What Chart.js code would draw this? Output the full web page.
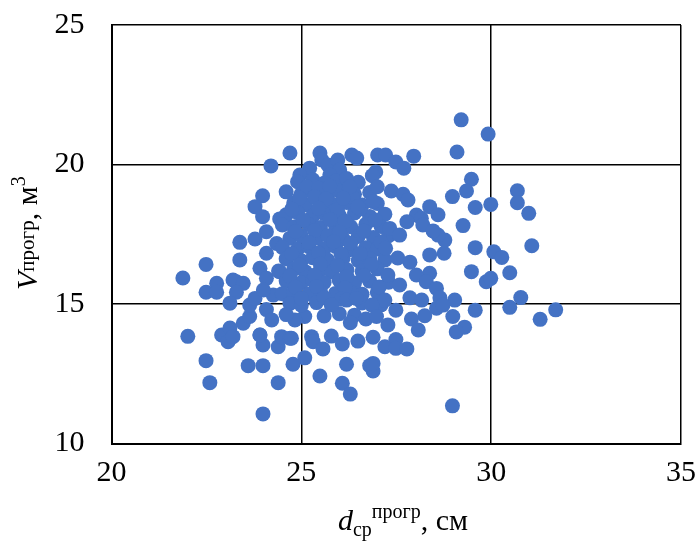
<!DOCTYPE html>
<html>
<head>
<meta charset="utf-8">
<script src="https://cdn.jsdelivr.net/npm/chart.js@4.4.1/dist/chart.umd.min.js"></script>
<style>
  html, body { margin: 0; padding: 0; background: #fff; }
  #wrap { width: 700px; height: 547px; }
</style>
</head>
<body>
<div id="wrap"><canvas id="chart" width="700" height="547"></canvas></div>
<script>
// === ДАННЫЕ: [d_ср прогр, см ; V прогр, м3] ===
const levyeTochki = [
  [21.88, 15.93], [22.01, 13.84], [22.49, 12.97], [22.59, 12.18], [22.49, 16.42],
  [22.49, 15.42], [22.77, 15.74], [22.9, 13.89], [23.12, 14.14], [23.07, 13.65],
  [23.2, 13.83], [23.38, 17.21], [23.38, 16.58], [23.29, 15.8], [23.2, 15.86],
  [23.47, 15.74], [23.29, 15.42], [22.77, 15.42], [23.12, 15.03], [23.47, 14.31],
  [23.64, 14.55], [23.91, 13.89], [23.99, 13.53], [24.39, 13.47], [24.48, 13.83],
  [24.7, 13.77], [23.6, 12.79], [23.99, 12.79], [24.78, 12.84], [24.39, 12.18],
  [23.99, 11.06], [24.2, 19.95], [23.98, 18.88], [23.78, 18.49], [23.98, 18.13],
  [24.43, 18.05], [24.55, 18.06], [24.08, 17.59], [23.78, 17.33], [24.35, 17.17],
  [24.08, 16.82], [23.91, 16.28], [24.43, 16.16], [24.08, 15.92], [24.26, 15.32],
  [23.64, 14.96], [24.08, 14.8], [24.22, 14.43], [23.78, 15.2], [24.0, 15.5],
  [23.91, 13.89], [24.74, 13.77], [25.27, 13.83], [25.09, 14.55], [24.83, 14.43]
];

const verhTochki = [
  [24.7, 20.41], [25.49, 20.41], [25.54, 20.16], [25.7, 19.98], [25.96, 20.16],
  [26.33, 20.34], [26.46, 20.23], [26.01, 19.8], [27.01, 20.34], [27.22, 20.34],
  [27.49, 20.09], [27.7, 19.87], [27.96, 20.3], [26.96, 19.73], [26.14, 19.44],
  [25.75, 19.62], [25.22, 19.87], [24.96, 19.62], [25.09, 19.09], [25.43, 19.27]
];

const yadro = [
  [24.9, 19.38], [25.3, 19.45], [25.6, 19.33], [25.9, 19.41], [26.5, 19.36],
  [24.6, 19.02], [25.0, 18.95], [25.3, 19.06], [25.7, 18.97], [26.0, 19.04], [26.4, 18.93], [26.8, 19.0],
  [24.8, 18.62], [25.1, 18.55], [25.5, 18.66], [25.8, 18.58], [26.2, 18.64], [26.6, 18.55], [27.0, 18.6],
  [24.6, 18.2], [24.9, 18.27], [25.3, 18.15], [25.6, 18.24], [26.0, 18.17], [26.4, 18.26], [26.8, 18.14], [27.2, 18.22],
  [24.5, 17.83], [24.8, 17.76], [25.2, 17.85], [25.5, 17.74], [25.9, 17.82], [26.3, 17.77], [26.7, 17.86], [27.1, 17.78],
  [24.7, 17.36], [25.0, 17.44], [25.4, 17.37], [25.7, 17.45], [26.1, 17.34], [26.5, 17.42], [26.9, 17.38], [27.3, 17.45],
  [24.5, 17.03], [24.9, 16.96], [25.2, 17.05], [25.6, 16.98], [25.9, 17.06], [26.3, 16.95], [26.7, 17.02], [27.0, 16.97],
  [24.6, 16.62], [25.0, 16.55], [25.3, 16.66], [25.7, 16.57], [26.1, 16.64], [26.5, 16.56], [26.8, 16.63], [27.2, 16.58],
  [24.4, 16.18], [24.8, 16.25], [25.1, 16.16], [25.5, 16.24], [25.8, 16.15], [26.2, 16.23], [26.6, 16.17], [27.0, 16.26],
  [24.6, 15.83], [25.0, 15.76], [25.3, 15.85], [25.6, 15.77], [26.0, 15.84], [26.4, 15.75], [26.8, 15.82], [27.3, 15.78],
  [24.5, 15.37], [24.8, 15.44], [25.2, 15.36], [25.5, 15.45], [25.9, 15.38], [26.3, 15.43], [26.6, 15.35], [27.0, 15.42],
  [24.7, 15.02], [25.0, 14.96], [25.4, 15.05], [25.8, 14.98], [26.6, 15.04], [27.1, 14.97],
  [24.6, 14.62], [25.6, 14.57], [26.0, 14.65], [26.4, 14.6]
];

// промежуточные точки в плотном ядре облака
const yadroDop = [
  [25.15, 19.2], [25.45, 19.15], [25.75, 19.22], [26.25, 19.18],
  [24.95, 18.8], [25.35, 18.84], [25.65, 18.77], [26.35, 18.82],
  [24.75, 18.4], [25.45, 18.43], [25.95, 18.38], [26.55, 18.41],
  [25.05, 18.0], [25.75, 18.03], [26.15, 17.97], [26.95, 18.01],
  [24.85, 17.6], [25.35, 17.63], [26.0, 17.57], [26.65, 17.62],
  [25.2, 17.2], [25.85, 17.23], [26.3, 17.18], [27.1, 17.21],
  [24.75, 16.8], [25.45, 16.83], [26.05, 16.78], [26.55, 16.81],
  [24.95, 16.4], [25.5, 16.43], [25.95, 16.38], [26.85, 16.42],
  [24.7, 16.0], [25.35, 16.03], [26.2, 15.98], [26.65, 16.02],
  [24.85, 15.6], [25.4, 15.63], [26.15, 15.58], [27.05, 15.61],
  [25.0, 15.2], [25.6, 15.23], [26.05, 15.18]
];

const pravyeTochki = [
  [29.21, 21.6], [29.92, 21.09], [29.1, 20.45], [29.48, 19.47], [29.35, 19.05],
  [28.98, 18.85], [29.58, 18.46], [29.99, 18.57], [30.69, 19.06], [30.69, 18.63],
  [30.99, 18.25], [29.26, 17.81], [29.58, 17.02], [29.48, 16.16], [29.87, 15.8],
  [29.99, 15.92], [30.07, 16.87], [30.28, 16.67], [30.49, 16.12], [31.07, 17.09],
  [30.78, 15.23], [30.49, 14.88], [31.29, 14.45], [31.7, 14.79], [29.58, 14.78],
  [29.3, 14.17], [29.08, 14.0], [28.98, 11.35], [28.38, 18.49], [28.6, 18.2]
];

const sredneTochki = [
  [26.87, 19.6], [27.0, 19.2], [27.37, 19.05], [27.68, 18.93], [27.81, 18.73],
  [26.89, 18.67], [26.49, 18.49], [26.19, 19.5], [26.28, 19.2], [26.1, 18.79],
  [27.33, 17.71], [27.59, 17.47], [28.03, 18.19], [28.16, 18.07], [27.78, 17.95],
  [28.2, 17.83], [28.78, 17.29], [28.6, 17.47], [28.47, 17.62], [28.76, 16.82],
  [28.38, 16.76], [28.38, 16.1], [28.03, 16.04], [28.29, 15.8], [28.56, 15.56],
  [27.22, 17.0], [27.54, 16.65], [27.86, 16.5], [27.28, 16.04], [27.59, 15.68],
  [27.86, 15.22], [28.17, 15.14], [28.65, 15.22], [29.04, 15.14], [27.2, 15.14],
  [27.49, 14.78], [26.86, 14.96]
];

const nizTochki = [
  [28.25, 14.58], [28.56, 14.85], [28.73, 14.96], [28.99, 14.55], [27.9, 14.46],
  [28.08, 14.07], [27.28, 14.25], [26.7, 14.46], [26.98, 14.55], [26.29, 14.33],
  [25.79, 14.96], [25.31, 13.65], [25.57, 13.39], [25.79, 13.85], [26.08, 13.57],
  [26.49, 13.67], [26.89, 13.81], [27.2, 13.47], [27.49, 13.73], [27.49, 13.41],
  [27.78, 13.39], [25.09, 13.07], [25.49, 12.42], [26.19, 12.84], [26.08, 12.16],
  [26.29, 11.77], [26.89, 12.6], [26.8, 12.79], [26.89, 12.87], [26.19, 15.14],
  [26.45, 15.2]
];

const xTiki = [20, 25, 30, 35];
const yTiki = [10, 15, 20, 25];

const vseTochki = [...levyeTochki, ...verhTochki, ...yadro, ...yadroDop, ...pravyeTochki, ...sredneTochki, ...nizTochki]
  .map(([x, y]) => ({ x, y }));

const SHRIFT = '"Liberation Serif", "Times New Roman", serif';

// подписи осей со смешанным форматированием
const podpisiOsey = {
  id: 'podpisiOsey',
  afterDraw(chart) {
    const c = chart.ctx;
    const risuy = (chasti, x0, y0) => {
      let x = x0;
      for (const ch of chasti) {
        c.font = ch.f;
        c.fillText(ch.t, x, y0 + ch.dy);
        x += c.measureText(ch.t).width;
      }
    };
    const shirina = chasti => chasti.reduce((s, ch) => {
      c.font = ch.f;
      return s + c.measureText(ch.t).width;
    }, 0);

    c.save();
    c.fillStyle = '#000';
    c.textBaseline = 'alphabetic';
    c.textAlign = 'left';

    const xChasti = [
      { t: 'd', f: `italic 30px ${SHRIFT}`, dy: 0 },
      { t: 'ср', f: `20px ${SHRIFT}`, dy: 6 },
      { t: 'прогр', f: `20px ${SHRIFT}`, dy: -12 },
      { t: ', см', f: `30px ${SHRIFT}`, dy: 0 }
    ];
    risuy(xChasti, 403 - shirina(xChasti) / 2, 530);

    const yChasti = [
      { t: 'V', f: `italic 30px ${SHRIFT}`, dy: 0 },
      { t: 'прогр', f: `21px ${SHRIFT}`, dy: -3 },
      { t: ', м', f: `30px ${SHRIFT}`, dy: 0 },
      { t: '3', f: `20px ${SHRIFT}`, dy: -12 }
    ];
    c.translate(37, 290);
    c.rotate(-Math.PI / 2);
    risuy(yChasti, 0, 0);
    c.restore();
  }
};

const ctx = document.getElementById('chart');
new Chart(ctx, {
  type: 'scatter',
  data: {
    datasets: [{
      data: vseTochki,
      backgroundColor: '#4472C4',
      borderColor: '#4472C4',
      borderWidth: 0,
      pointRadius: 7.5,
      pointHoverRadius: 7.5
    }]
  },
  options: {
    responsive: false,
    animation: false,
    devicePixelRatio: 1,
    layout: { padding: { left: 0, top: 25, right: 19, bottom: 0 } },
    plugins: { legend: { display: false }, tooltip: { enabled: false } },
    scales: {
      x: {
        type: 'linear',
        min: 20, max: 35,
        afterBuildTicks: s => { s.ticks = xTiki.map(v => ({ value: v })); },
        afterFit: s => { s.height = 103.5; s.paddingLeft = 0; s.paddingRight = 0; },
        grid: { color: '#000', lineWidth: 1.5, drawTicks: false },
        border: { color: '#000', width: 2 },
        ticks: { color: '#000', padding: 12, font: { family: SHRIFT, size: 30 } }
      },
      y: {
        type: 'linear',
        min: 10, max: 25,
        afterBuildTicks: s => { s.ticks = yTiki.map(v => ({ value: v })); },
        afterFit: s => { s.width = 111.5; s.paddingTop = 0; s.paddingBottom = 0; },
        grid: { color: '#000', lineWidth: 1.5, drawTicks: false },
        border: { color: '#000', width: 2 },
        ticks: { color: '#000', padding: 27, font: { family: SHRIFT, size: 30 } }
      }
    }
  },
  plugins: [podpisiOsey]
});
</script>
</body>
</html>
